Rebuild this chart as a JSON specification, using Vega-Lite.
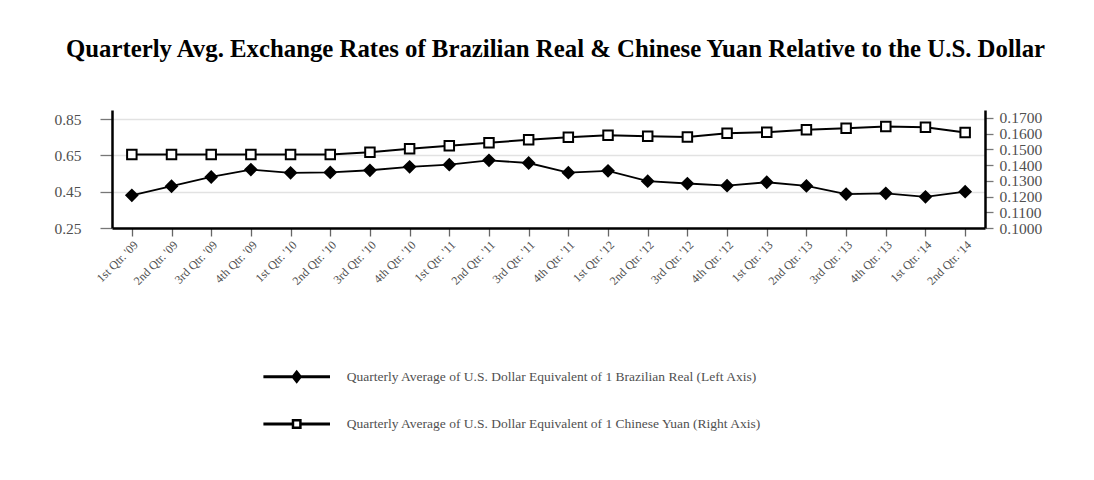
{
  "$schema": "https://vega.github.io/schema/vega-lite/v6.json",
  "autosize": {"type": "none"},
  "padding": {"left": 112, "top": 110, "right": 109, "bottom": 252},
  "width": 873,
  "height": 118,
  "background": "white",
  "title": {
    "text": "Quarterly Avg. Exchange Rates of Brazilian Real & Chinese Yuan Relative to the U.S. Dollar",
    "font": "Liberation Serif",
    "fontSize": 24.8,
    "fontWeight": "bold",
    "color": "black",
    "anchor": "middle",
    "offset": 48,
    "dx": 7
  },
  "data": {
    "values": [
      {"q": "1st Qtr. '09", "real": 0.430, "yuan": 0.1467},
      {"q": "2nd Qtr. '09", "real": 0.480, "yuan": 0.1467},
      {"q": "3rd Qtr. '09", "real": 0.531, "yuan": 0.1467},
      {"q": "4th Qtr. '09", "real": 0.572, "yuan": 0.1467},
      {"q": "1st Qtr. '10", "real": 0.554, "yuan": 0.1467},
      {"q": "2nd Qtr. '10", "real": 0.556, "yuan": 0.1467},
      {"q": "3rd Qtr. '10", "real": 0.568, "yuan": 0.1482},
      {"q": "4th Qtr. '10", "real": 0.587, "yuan": 0.1504},
      {"q": "1st Qtr. '11", "real": 0.599, "yuan": 0.1523},
      {"q": "2nd Qtr. '11", "real": 0.623, "yuan": 0.1542},
      {"q": "3rd Qtr. '11", "real": 0.608, "yuan": 0.1561},
      {"q": "4th Qtr. '11", "real": 0.555, "yuan": 0.1577},
      {"q": "1st Qtr. '12", "real": 0.565, "yuan": 0.1590},
      {"q": "2nd Qtr. '12", "real": 0.508, "yuan": 0.1583},
      {"q": "3rd Qtr. '12", "real": 0.495, "yuan": 0.1579},
      {"q": "4th Qtr. '12", "real": 0.483, "yuan": 0.1602},
      {"q": "1st Qtr. '13", "real": 0.502, "yuan": 0.1609},
      {"q": "2nd Qtr. '13", "real": 0.482, "yuan": 0.1625},
      {"q": "3rd Qtr. '13", "real": 0.437, "yuan": 0.1634},
      {"q": "4th Qtr. '13", "real": 0.441, "yuan": 0.1645},
      {"q": "1st Qtr. '14", "real": 0.422, "yuan": 0.1641},
      {"q": "2nd Qtr. '14", "real": 0.450, "yuan": 0.1607}
    ]
  },
  "encoding": {
    "x": {
      "field": "q",
      "type": "ordinal",
      "sort": null,
      "scale": {"type": "point", "padding": 0.5},
      "axis": {
        "title": null,
        "labelAngle": -45,
        "labelFont": "Liberation Serif",
        "labelFontSize": 12,
        "labelColor": "#505050",
        "tickColor": "#666",
        "tickSize": 8,
        "tickWidth": 1.3,
        "domainColor": "black",
        "domainWidth": 2.5,
        "grid": false,
        "labelPadding": 3
      }
    }
  },
  "layer": [
    {
      "encoding": {
        "y": {
          "field": "real",
          "type": "quantitative",
          "scale": {"domain": [0.25, 0.9], "nice": false, "zero": false},
          "axis": {
            "title": null,
            "orient": "left",
            "values": [0.25, 0.45, 0.65, 0.85],
            "format": ".2f",
            "labelFont": "Liberation Serif",
            "labelFontSize": 15.5,
            "labelColor": "#505050",
            "tickColor": "#777",
            "tickSize": 12,
            "tickWidth": 1.3,
            "labelPadding": 19,
            "domainColor": "black",
            "domainWidth": 2.5,
            "grid": true,
            "gridColor": "#e2e2e2",
            "gridWidth": 1.5
          }
        }
      },
      "layer": [
        {
          "mark": {"type": "line", "color": "black", "strokeWidth": 1.8}
        },
        {
          "mark": {"type": "point", "shape": "diamond", "filled": true, "fill": "black", "stroke": "black", "size": 120, "opacity": 1}
        }
      ]
    },
    {
      "encoding": {
        "y": {
          "field": "yuan",
          "type": "quantitative",
          "scale": {"domain": [0.1, 0.175], "nice": false, "zero": false},
          "axis": {
            "title": null,
            "orient": "right",
            "values": [0.10, 0.11, 0.12, 0.13, 0.14, 0.15, 0.16, 0.17],
            "format": ".4f",
            "labelFont": "Liberation Serif",
            "labelFontSize": 15.5,
            "labelColor": "#505050",
            "tickColor": "#777",
            "tickSize": 8,
            "tickWidth": 1.3,
            "labelPadding": 6,
            "domainColor": "black",
            "domainWidth": 2.5,
            "grid": false
          }
        }
      },
      "layer": [
        {
          "mark": {"type": "line", "color": "black", "strokeWidth": 2}
        },
        {
          "mark": {"type": "point", "shape": "square", "filled": true, "fill": "white", "stroke": "black", "strokeWidth": 2, "size": 90, "opacity": 1}
        }
      ]
    },
    {
      "mark": {"type": "point", "filled": true, "color": "black", "opacity": 0},
      "encoding": {
        "shape": {
          "datum": "Quarterly Average of U.S. Dollar Equivalent of 1 Brazilian Real (Left Axis)",
          "type": "nominal",
          "scale": {
            "domain": [
              "Quarterly Average of U.S. Dollar Equivalent of 1 Brazilian Real (Left Axis)",
              "Quarterly Average of U.S. Dollar Equivalent of 1 Chinese Yuan (Right Axis)"
            ],
            "range": [
              "M-1.48,-0.067H1.48V0.067H-1.48ZM0,-0.31L0.245,0L0,0.31L-0.245,0Z",
              "M-1.48,-0.067H-0.22V0.067H-1.48ZM0.22,-0.067H1.48V0.067H0.22ZM-0.22,-0.22H0.22V0.22H-0.22ZM-0.11,-0.11V0.11H0.11V-0.11Z"
            ]
          },
          "legend": {
            "title": null,
            "orient": "none",
            "legendX": 162.2,
            "legendY": 244.2,
            "direction": "vertical",
            "symbolSize": 2025,
            "symbolOpacity": 1,
            "symbolFillColor": "black",
            "symbolStrokeWidth": 0,
            "rowPadding": 17.3,
            "padding": 0,
            "labelOffset": 27.5,
            "labelFont": "Liberation Serif",
            "labelFontSize": 13.5,
            "labelColor": "#505050",
            "labelLimit": 0
          }
        }
      }
    }
  ],
  "resolve": {"scale": {"y": "independent"}},
  "config": {
    "view": {"stroke": null},
    "font": "Liberation Serif"
  }
}
